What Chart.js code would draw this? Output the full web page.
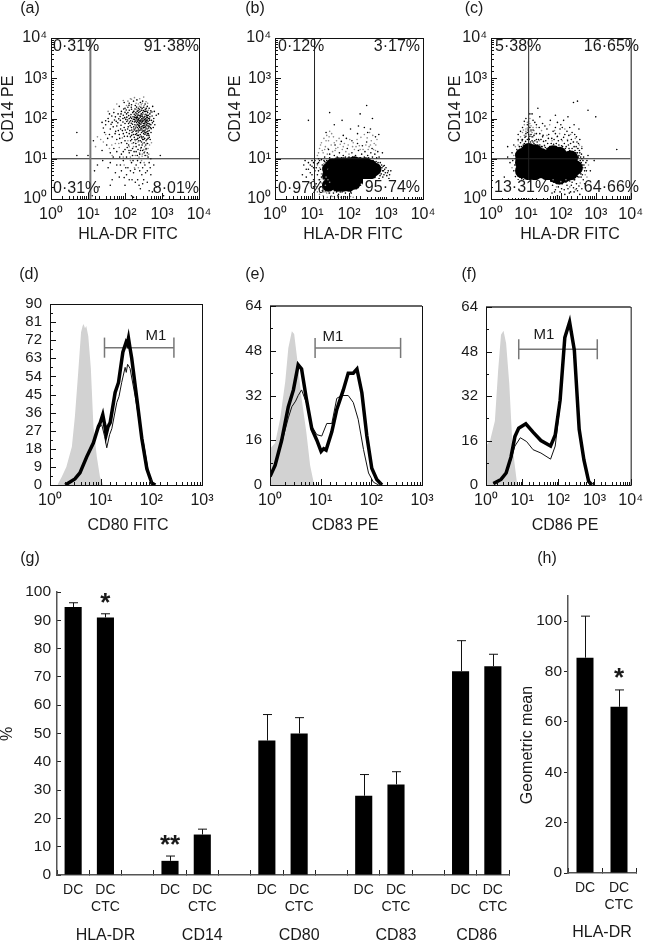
<!DOCTYPE html>
<html>
<head>
<meta charset="utf-8">
<script src="https://cdn.jsdelivr.net/npm/chart.js@4"></script>
<style>
  html, body { margin: 0; padding: 0; background: #fff; }
  #page { position: relative; width: 649px; height: 945px; overflow: hidden; }
  #page canvas { position: absolute; left: 0; top: 0; }
</style>
</head>
<body>
<div id="page"></div>
<script>
const FONT = '"Liberation Sans", Arial, sans-serif';

// === scatter (a) === //
const a_black = [[210,130],[180,95],[250,75],[300,110],[150,60],[120,140],[340,60],[280,45],[230,55],[190,40],[160,85],[130,100],[100,75],[90,120],[75,90],[60,65],[420,85],[380,120],[450,50],[500,70],[310,35],[260,28],[210,30],[170,25],[140,35],[110,45],[85,50],[70,40],[55,110],[45,80],[40,55],[35,100],[30,70],[120,190],[150,220],[190,210],[230,180],[280,160],[320,190],[360,150],[410,140],[470,110],[520,90],[580,60],[600,100],[200,65],[220,85],[240,100],[265,120],[290,90],[315,75],[335,95],[355,85],[375,70],[395,55],[240,50],[225,70],[205,80],[185,70],[165,110],[145,125],[125,75],[105,95],[95,60],[135,50],[155,45],[175,55],[195,105],[215,115],[235,140],[255,150],[275,130],[295,65],[325,50],[345,40],[365,100],[385,90],[405,105],[425,65],[445,75],[465,90],[485,60],[505,45],[540,115],[300,140],[270,85],[250,60],[230,95],[210,50],[190,120],[170,150],[150,170],[130,160],[110,130],[80,150],[65,130],[50,140],[70,200],[100,180],[95,250],[130,240],[170,270],[210,290],[260,250],[300,270],[350,230],[400,200],[450,180],[620,150],[700,120],[800,130],[560,200],[480,30],[420,32],[370,28],[330,25],[290,22],[240,22],[200,20],[160,18],[125,22],[100,28],[80,25],[60,30],[45,35],[38,40],[28,45],[215,60],[245,68],[262,92],[285,78],[308,58],[328,68],[348,78],[368,58],[388,78],[275,62],[255,88],[235,78],[220,105],[200,92],[180,82],[160,72],[142,88],[122,62],[112,84],[98,105],[88,82],[78,68],[68,98],[58,85],[150,38],[178,34],[205,42],[232,38],[258,40],[286,33],[318,42],[352,52],[402,42],[442,38],[60,15],[80,13],[100,17],[130,14],[160,12],[200,15],[250,13],[300,16],[350,12],[400,14],[50,18],[40,14],[32,22],[24,16],[115,19],[145,16],[225,17],[275,19],[40,8],[60,7],[90,9],[120,6],[150,8],[200,7],[250,5],[300,6],[400,5],[450,8],[80,5],[110,4],[170,4.5],[130,3],[70,3.5],[220,3],[320,3],[500,4],[35,6],[25,9],[18,7],[15,5],[5,12],[5,45],[900,12],[600,7],[100,2.2],[150,1.2],[170,1.1],[260,1.8],[40,2.2],[20,2],[13,1.2],[550,1.5],[700,2],[14,28],[10,12],[1100,1.2],
  [252,82],[268,72],[282,98],[298,84],[312,66],[322,88],[338,74],[352,64],[362,92],[378,82],[392,66],[402,92],[412,74],[432,58],[452,64],[472,72],[258,108],[272,112],[292,122],[306,98],[326,106],[344,112],[366,128],[388,108],[412,118],[436,100],[458,98],[242,62],[258,52],[272,56],[288,52],[304,48],[320,60],[336,46],[356,44],[376,46],[392,38],[412,48],[428,42],[228,46],[214,38],[198,48],[184,52],[168,40],[152,52],[138,66],[118,55],[102,52],[90,42],[76,55],[66,50],[56,48],[48,62],[42,72],[36,84],[212,152],[228,122],[242,118],[196,138],[178,128],[162,140],[142,108],[126,118],[112,108],[100,142],[88,100],[74,112],[64,78],[52,92],[44,115],[38,130],[30,88],[26,58],[24,80],[186,172],[206,192],[226,160],[248,170],[268,190],[290,178],[312,158],[332,150],[352,170],[376,180],[392,152],[424,120],[148,190],[128,212],[108,162],[92,172],[78,130],[118,92],[132,82],[148,76],[172,62],[192,58],[214,72],[232,66],[182,108],[204,102],[222,92],[240,88],[150,100],[168,96],[188,86],[208,108],[166,48],[186,30],[222,32],[248,34],[274,36],[300,30],[340,32],[392,30],[454,34],[510,56],[550,78],[590,85],[640,70],[470,130],[500,155],[536,145],[96,36],[116,36],[130,42],[142,28],[72,32],[54,42],[34,32],[112,24],[152,30],[196,24],[236,28],[280,26],[322,30],[364,22],[408,24],[128,16],[176,15],[215,12],[262,16],[328,14],[372,18],[72,11],[90,15],[48,11],[110,11],[165,9],[218,9],[262,8],[345,7],[420,11],[480,6],[500,10],[75,7],[105,6],[140,5],[185,5.5],[285,4],[360,4.5],[95,3.4],[55,4.5],[45,3],[155,3],[190,2.6],[240,2.2],[300,2.4],[400,2.6],[450,1.6]];
const a_gray = [[150,300],[180,330],[250,310],[320,340],[110,210],[90,280],[60,230],[50,170],[35,150],[30,40],[22,30],[16,20],[38,18],[55,24],[85,33],[120,28],[155,24],[190,28],[225,26],[265,18],[300,24],[340,20],[380,24],[420,18],[460,22],[520,25],[90,11],[140,11],[190,12],[240,11],[290,11.5],[340,15],[380,17],[180,150],[200,170],[220,150],[245,200],[275,220],[310,130],[340,125],[370,165],[430,160],[490,140],[45,12],[70,19],[330,8],[280,9],[230,6],[180,6],[140,9],[95,7],[120,270],[140,310],[200,240],[230,230],[290,240],[330,210],[370,260],[410,240],[265,18],[245,14],[295,13],[318,17],[354,17],[395,12],[438,13],[170,20],[130,20],[68,24],[44,22],[26,26],[18,35]];

// === scatter (b) === //
const b_core = [[28,2.2],[28,3.8],[28,5.6],[35,3],[35,5],[35,7],[50,2.2],[50,3.5],[50,5.5],[50,7.5],[70,2.2],[70,3.5],[70,5.5],[70,7.5],[100,2.2],[100,3.5],[100,5.5],[100,7.5],[140,2.5],[140,4],[140,6],[140,8],[200,3.5],[200,5.5],[200,7.5],[280,4],[280,6],[280,7.5],[390,4.5],[390,6.5],[500,5.5]];
const b_black = [[12,9],[13,6],[14,4],[15,8],[16,3],[17,5.5],[18,9.5],[19,7],[20,2],[21,4],[22,8.5],[23,1.6],[24,6],[25,9],[26,2.5],[28,8],[29,1.4],[30,9.5],[32,1.8],[34,8.5],[36,7.5],[38,1.4],[40,9],[42,1.7],[45,8],[48,9.5],[52,1.3],[55,8.5],[60,9.5],[65,1.5],[70,9],[75,8],[80,1.4],[85,9.5],[90,1.7],[95,9],[105,9.8],[110,1.5],[115,8.5],[120,10],[125,1.8],[130,9],[150,9.6],[160,1.8],[170,8.8],[180,10],[190,2.2],[210,9],[230,9.8],[240,2.4],[250,8.6],[270,9.4],[290,2.8],[310,8.5],[330,9.2],[350,2.6],[370,8.2],[400,8.8],[420,3],[440,7.5],[460,2.8],[480,8],[500,3.4],[520,6.6],[540,8.5],[560,4],[590,5.5],[620,7],[650,3.2],[680,5],[700,8],[740,4.2],[780,6],[820,3.5],[860,5],[900,6.8],[960,4.5],[1050,3.8],[1150,5],[1250,4],[1350,5],[8,8],[7,5.5],[6,7],[9,4.5],[10,6.5],[11,3],[5.5,4],[10,9],[11,2],[300,7],[330,6],[360,4.5],[390,7.5],[420,6],[450,5],[480,6],[15,10],[22,11],[30,13],[40,12],[55,14],[70,12],[90,18],[120,14],[150,12],[180,16],[220,13],[270,15],[320,12],[390,14],[500,13],[650,11],[28,17],[42,22],[62,27],[85,32],[120,28],[170,24],[230,21],[300,26],[420,18],[600,15],[800,14],[24,45],[30,140],[40,70],[65,90],[110,55],[180,65],[200,130],[260,60],[380,55],[430,100],[300,210],[320,45],[8,90],[170,42],[70,38],[520,35],[640,40],
  [13,2.4],[14,7.5],[15,5],[16,9],[17,2],[18,3.5],[19,1.6],[20,6],[21,9],[22,5],[23,3],[24,8],[25,4],[26,7],[27,1.7],[28,5.5],[30,3.2],[30,7],[32,4],[33,9],[34,2.4],[36,9.6],[38,8],[40,1.6],[42,7],[44,9],[46,1.5],[48,7.5],[50,1.2],[55,7.5],[58,1.5],[62,8],[66,9],[72,7.5],[78,9],[82,8.2],[88,7.5],[92,9],[100,9],[108,8.5],[115,1.4],[122,8],[135,8],[145,1.8],[155,8],[165,9],[175,1.9],[185,8],[195,9],[205,2.2],[215,8.5],[225,2.5],[240,8],[255,2.2],[265,8],[280,8.5],[295,8],[305,2.2],[320,7.5],[325,3],[345,8],[355,7],[365,3.2],[385,9],[405,3.4],[410,7],[425,8],[435,4],[445,9],[455,6],[470,3.5],[490,7],[510,4.5],[530,5.5],[550,7],[570,2.8],[580,6.5],[600,4.5],[610,8],[640,5.5],[660,6.5],[690,3.8],[720,6],[760,7],[800,5],[840,6.5],[880,4],[920,5.5],[1000,6],[1100,4.5],[1200,3.2],[7,3.5],[8,5.5],[9,7],[6.5,9],[10,4],[9,2.5],[11,8],[12,5],[11,6],[30,10.5],[48,11],[62,10.5],[80,11],[100,11],[125,11],[150,10.5],[200,10.5],[260,11],[340,10.5],[430,11],[560,10.5]];
const b_gray = [[14,12],[16,18],[18,25],[20,14],[21,32],[23,20],[25,38],[26,13],[28,28],[30,48],[33,22],[36,15],[38,35],[42,16],[46,28],[50,19],[58,23],[66,17],[75,24],[82,15],[95,22],[105,30],[125,20],[140,17],[165,30],[190,21],[210,34],[240,17],[260,40],[285,22],[310,33],[350,20],[360,45],[400,28],[440,38],[480,24],[530,22],[570,30],[13,2],[14,1.5],[15,3],[16,1.3],[18,2.5],[20,1.2],[22,3],[24,1.5],[26,1.1],[30,2.6],[33,1.2],[14,7],[16,6],[18,4.2],[21,7.5],[24,3.5],[27,5.5],[15,14],[17,22],[19,16],[22,17],[24,28],[27,18],[29,35],[34,42],[40,25],[44,18],[54,32],[70,20],[100,13],[130,25],[155,20],[200,17],[330,17],[380,22],[460,17],[520,16],[15,1.8],[17,2.6],[19,3.2],[21,1.5],[23,2.2],[25,1.4],[27,3],[30,1.4],[35,1.15],[40,1.15],[50,1.1],[60,1.1],[75,1.15],[90,1.1],[110,1.15],[130,1.1]];

// === scatter (c) === //
const c_core = [[8,5],[8,8],[8,12],[12,4.5],[12,7],[12,11],[12,16],[18,4.5],[18,7],[18,11],[18,15],[27,5],[27,8],[27,12],[40,4.5],[40,7],[40,11],[60,4],[60,6.5],[60,10],[60,14],[90,3.5],[90,6],[90,9],[90,13],[130,4],[130,6.5],[130,10],[190,4.5],[190,7],[190,10.5],[260,6]];
const c_black = [[3.5,8],[4,14],[4.5,5],[5,10],[5,3.6],[5.5,7],[5.5,17],[6,3],[6,13],[6.5,20],[7,2.8],[7,25],[8,18],[8,30],[9,2.6],[9,24],[10,36],[11,45],[11,2.7],[12,32],[13,60],[14,40],[15,28],[16,52],[17,24],[18,80],[20,30],[22,22],[25,42],[28,20],[32,27],[36,19],[42,24],[50,19],[55,32],[62,23],[70,42],[75,20],[85,28],[95,55],[105,21],[120,34],[135,18],[150,48],[165,22],[180,16],[200,30],[220,15],[240,20],[270,14],[290,26],[320,11],[340,16],[360,9],[390,13],[420,7],[450,11],[480,5],[520,8],[600,12],[700,5],[900,9],[4000,17],[300,3.6],[280,2.4],[250,3],[230,1.9],[210,2.6],[190,1.5],[170,3],[150,2.2],[130,1.3],[120,2.8],[105,1.8],[90,2.4],[80,1.2],[70,1.7],[62,2.6],[56,1.4],[320,4.5],[350,5],[380,3.5],[410,6],[440,3],[480,2.4],[300,1.6],[350,1.3],[400,1.8],[50,90],[35,65],[25,110],[15,130],[10,100],[8,60],[70,120],[120,90],[180,60],[250,40],[350,30],[300,270],[230,250],[600,160],[1000,110],[160,110],[100,70],[70,60],[45,40],[30,35],[240,70],[330,55],[2.4,3.5],[3,20],[3,11],[4,2.5],[6,40],[22,180],[1,1.05],[14,1.2],[20,1.1],[26,1.15],[35,1.1],[50,1.1],
  [4.2,9],[4.8,7],[5.2,13],[5.6,4.5],[5.8,10],[6.2,6],[6.4,16],[6.6,3.6],[6.8,9],[7.2,14],[7.4,20],[7.6,3.2],[7.8,28],[8.4,22],[8.6,3],[9.2,18],[9.4,34],[9.8,27],[10,42],[10.5,22],[11,30],[11.5,52],[12,40],[12.5,30],[13,36],[13.5,26],[14,52],[15,35],[16,26],[17,38],[18,28],[19,22],[20,42],[21,26],[23,30],[25,22],[27,30],[29,20],[31,38],[34,21],[37,28],[40,18],[44,32],[48,20],[53,24],[58,19],[64,30],[68,20],[74,24],[80,36],[88,22],[96,19],[104,30],[112,20],[126,24],[142,20],[156,28],[172,18],[190,24],[210,18],[230,26],[255,16],[275,20],[300,14],[310,18],[330,12],[350,14],[370,11],[385,8],[400,10],[430,9],[460,7],[500,6],[540,5],[560,9],[285,4],[300,5.5],[310,8],[330,3.5],[340,7],[360,6],[375,4.2],[395,5.5],[415,4],[300,11],[280,12],[270,9],[240,3],[220,3.2],[200,2.2],[180,2.8],[160,1.8],[140,2.6],[110,2.4],[95,1.5],[85,2],[75,2.7],[66,1.5],[58,2.2],[125,1.7],[175,1.4],[240,1.5],[280,1.8],[330,2.1],[24,60],[30,75],[40,55],[60,48],[80,80],[110,60],[130,40],[170,38],[210,45],[280,35],[320,24],[400,18],[6,30],[4.5,22],[7,48],[9,85],[11,70],[13,130],[16,90],[20,70]];
const c_gray = [[4,6],[4.5,12],[5,20],[6,28],[7,35],[8,45],[9,70],[10,55],[11,80],[12,65],[13,100],[14,48],[16,35],[18,42],[20,60],[24,28],[28,50],[34,22],[40,38],[48,70],[56,28],[66,50],[78,35],[92,42],[110,28],[130,55],[155,30],[190,40],[225,26],[260,32],[300,18],[340,22],[400,20],[450,6],[500,4],[560,3.5],[620,7],[360,2.5],[260,1.7],[180,2],[140,3],[100,2.7],[75,2],[60,3],[9,38],[10,48],[11,58],[12,48],[13,75],[14,66],[15,45],[16,60],[12,85],[17,50],[8.5,52],[7.5,30],[6,22]];

// === histogramas === //
const d_gray = [[1.4,0],[1.7,4],[2.1,9],[2.7,19],[3.1,34],[3.6,56],[4.1,76],[4.4,79],[4.6,80],[4.9,78],[5.2,79],[5.7,74],[6.4,58],[7.2,29],[8.4,14],[9.7,4],[11.3,0]];
const d_thin = [[2,0],[3.1,3],[3.9,6],[5.3,14],[7.2,21],[9,28],[10.5,30],[12,24],[13.2,18.5],[15,25],[16.6,28],[20.8,41],[23,44],[26,51],[30.4,58.5],[32,56],[34,60],[38,58],[48,44],[60,29],[70,21],[88,6],[102,0.7],[120,0]];
const d_thick = [[2,0],[3.1,3],[3.9,6],[5.3,14],[7.2,21],[9,29],[9.8,31],[11,35],[12,30],[12.8,25],[14,29],[15.4,31],[19.3,46],[22.5,51],[27.4,66],[31.8,71],[33.5,70],[35.4,73],[38,68],[41,63],[51.7,43],[65,23],[81.6,8],[102,1],[120,0]];
const e_gray = [[1,13],[1.26,15],[1.58,23.5],[2,37],[2.3,49],[2.7,55],[3,54],[3.5,44],[4.2,31],[5.2,19],[6.2,7],[7.2,1.3],[7.8,0]];
const e_thin = [[1,3],[1.26,7],[1.7,15],[2.3,24],[2.7,28],[3.2,30],[3.6,32],[4.2,34],[5.2,29.5],[6.7,21],[8.4,18],[10.5,17.5],[13.2,22],[16.6,22],[20.8,31],[26,32],[35,32],[44,29.5],[55,23.5],[70,12.7],[88,4.3],[110,1],[140,0]];
const e_thick = [[1,3],[1.26,7],[1.7,16],[2.3,28],[2.9,34],[3.6,43],[4.2,41.5],[5.2,31],[6.7,20],[8.4,16],[10.2,12],[11.5,13],[12.8,12.5],[16.6,19],[20.8,27],[28,34],[35,40],[44,40],[52,41.5],[65,33],[81.6,17.5],[102,6],[128,2],[162,0]];
const f_gray = [[1,14],[1.3,16],[1.76,23],[2.16,41],[2.6,54],[3.05,55.5],[3.6,51],[4.4,36.5],[5.4,14],[6.3,6.7],[7.3,0]];
const f_thin = [[1.6,0.5],[2.6,2],[3.6,4],[4.9,9],[6.3,14],[8.9,17],[13.3,15.6],[20,12.7],[33,11.5],[61,9.3],[82,14],[112,29],[151,52],[205,58],[277,47.5],[377,20],[510,9],[690,1.3],[845,0]];
const f_thick = [[1.6,0.5],[2.6,2],[3.6,4.3],[4.9,10],[6.3,17.4],[8,20.4],[12.6,22],[20,19],[33,16],[61,14],[82,18],[112,30.5],[151,53],[205,58.6],[277,48.5],[377,20],[510,9],[690,1.3],[845,0]];

// === barras === //
const g_labels = [['DC'], ['DC', 'CTC'], '', ['DC'], ['DC', 'CTC'], '', ['DC'], ['DC', 'CTC'], '', ['DC'], ['DC', 'CTC'], '', ['DC'], ['DC', 'CTC']];
const g_values = [94.7, 91, null, 5, 14.3, null, 47.5, 50, null, 28, 32, null, 72, 73.8];
const g_tops = [96.2, 92.3, null, 6.7, 16.2, null, 56.7, 55.6, null, 35.5, 36.5, null, 82.8, 78];
const g_groups = ['HLA-DR', 'CD14', 'CD80', 'CD83', 'CD86'];
const g_group_at = [1, 4, 7, 10, 12.5];
const h_labels = [['DC'], ['DC', 'CTC']];
const h_values = [85.5, 66];
const h_tops = [102, 72.7];

const log_labels = { 1: '10⁰', 10: '10¹', 100: '10²', 1000: '10³', 10000: '10⁴' };

function is_pow10(v) {
  const l = Math.log10(v);
  return Math.abs(l - Math.round(l)) < 1e-9;
}

function draw_text(ctx, t) {
  ctx.save();
  ctx.font = (t.bold ? 'bold ' : '') + (t.size || 16) + 'px ' + FONT;
  ctx.textAlign = t.align || 'center';
  ctx.textBaseline = 'middle';
  if (t.bg) {
    ctx.fillStyle = '#fff';
    ctx.fillRect(t.bg[0], t.bg[1], t.bg[2], t.bg[3]);
  }
  ctx.fillStyle = '#1a1a1a';
  ctx.translate(t.x, t.y);
  if (t.rot) ctx.rotate(-Math.PI / 2);
  ctx.fillText(t.text, 0, 0);
  ctx.restore();
}

// moldura, ticks para dentro, textos soltos e barras de erro
const panel_plugin = {
  id: 'panel',
  afterDatasetsDraw(chart, args, opts) {
    const ctx = chart.ctx;
    const area = chart.chartArea;
    ctx.save();
    ctx.strokeStyle = '#111';
    ctx.lineWidth = 1;
    if (opts.frame) {
      ctx.strokeRect(area.left + 0.5, area.top + 0.5, area.width, area.height);
      if (opts.grayTop) {
        ctx.strokeStyle = '#666';
        ctx.lineWidth = 2;
        ctx.beginPath();
        ctx.moveTo(area.left, area.top);
        ctx.lineTo(area.right, area.top);
        ctx.stroke();
        ctx.strokeStyle = '#111';
        ctx.lineWidth = 1;
      }
      chart.scales.x.ticks.forEach(tk => {
        const px = Math.round(chart.scales.x.getPixelForValue(tk.value)) + 0.5;
        const len = is_pow10(tk.value) ? 6 : 3;
        ctx.beginPath();
        ctx.moveTo(px, area.bottom);
        ctx.lineTo(px, area.bottom - len);
        ctx.stroke();
      });
      chart.scales.y.ticks.forEach(tk => {
        const py = Math.round(chart.scales.y.getPixelForValue(tk.value)) + 0.5;
        const major = opts.yMajor ? tk.value % opts.yMajor === 0 : is_pow10(tk.value);
        ctx.beginPath();
        ctx.moveTo(area.left, py);
        ctx.lineTo(area.left + (major ? 6 : 3), py);
        ctx.stroke();
      });
    }
    if (opts.tops) {
      const sx = chart.scales.x, sy = chart.scales.y;
      opts.tops.forEach((top, i) => {
        if (top === null) return;
        const px = Math.round(sx.getPixelForValue(i)) + 0.5;
        ctx.beginPath();
        ctx.moveTo(px, sy.getPixelForValue(opts.values[i]));
        ctx.lineTo(px, sy.getPixelForValue(top));
        ctx.moveTo(px - 4.5, sy.getPixelForValue(top));
        ctx.lineTo(px + 4.5, sy.getPixelForValue(top));
        ctx.stroke();
      });
      (opts.stars || []).forEach(s => {
        draw_text(ctx, { text: s.text, x: sx.getPixelForValue(s.at), y: sy.getPixelForValue(s.value) + 6, size: 26, bold: true });
      });
      (opts.groups || []).forEach(g => {
        draw_text(ctx, { text: g.text, x: sx.getPixelForValue(g.at), y: opts.groupY });
      });
    }
    (opts.texts || []).forEach(t => draw_text(ctx, t));
    ctx.restore();
  }
};
Chart.register(panel_plugin);

function make_canvas() {
  const c = document.createElement('canvas');
  c.width = 649;
  c.height = 945;
  c.style.width = '649px';
  c.style.height = '945px';
  document.getElementById('page').appendChild(c);
  return c;
}

// o eixo y ocupa tudo à esquerda da caixa e o eixo x tudo abaixo dela
function box_padding(b) {
  return { left: 0, top: b.y, right: 649 - b.x - b.w, bottom: 0 };
}

function fit_to(b) {
  return axis => {
    if (axis.isHorizontal()) axis.height = 945 - b.y - b.h; else axis.width = b.x;
  };
}

function log_axis(b, max, padding) {
  return {
    type: 'logarithmic',
    min: 1,
    max: max,
    afterFit: fit_to(b),
    grid: { display: false, drawTicks: false },
    border: { display: false },
    ticks: {
      autoSkip: false,
      maxRotation: 0,
      padding: padding,
      color: '#1a1a1a',
      font: { family: FONT, size: 16 },
      callback: v => (is_pow10(v) ? log_labels[Math.round(v)] : '')
    }
  };
}

function line_set(points, color, width) {
  return { data: points, showLine: true, borderColor: color, borderWidth: width, pointRadius: 0, tension: 0, fill: false };
}

function dots_set(points, color, radius) {
  return { data: points.map(p => ({ x: p[0], y: p[1] })), showLine: false, backgroundColor: color, borderWidth: 0, pointRadius: radius };
}

function xy(points) {
  return points.map(p => ({ x: p[0], y: p[1] }));
}

function scatter_panel(b, gate_x, gate_w, sets, texts) {
  new Chart(make_canvas(), {
    type: 'scatter',
    data: {
      datasets: [
        line_set([{ x: gate_x, y: 1 }, { x: gate_x, y: 10000 }], gate_w > 1 ? '#777' : '#222', gate_w),
        line_set([{ x: 1, y: 10 }, { x: 10000, y: 10 }], '#222', 1)
      ].concat(sets)
    },
    options: {
      responsive: false,
      animation: false,
      events: [],
      layout: { autoPadding: false, padding: box_padding(b) },
      plugins: { legend: { display: false }, tooltip: { enabled: false }, panel: { frame: true, texts: texts } },
      scales: { x: log_axis(b, 10000, 6), y: log_axis(b, 10000, 4) }
    }
  });
}

function hist_panel(b, x_max, y_max, y_major, thick, thin, gray, m1, texts, gray_top) {
  const tick_gap = y_major / 2;
  new Chart(make_canvas(), {
    type: 'scatter',
    data: {
      datasets: [
        line_set(xy(thick), '#000', 3.5),
        line_set(xy(thin), '#111', 1),
        line_set([{ x: m1.from, y: m1.y }, { x: m1.to, y: m1.y }], '#777', 1.5),
        line_set([{ x: m1.from, y: m1.y - m1.cap }, { x: m1.from, y: m1.y + m1.cap }], '#777', 1.5),
        line_set([{ x: m1.to, y: m1.y - m1.cap }, { x: m1.to, y: m1.y + m1.cap }], '#777', 1.5),
        Object.assign(line_set(xy(gray), '#d2d2d2', 0), { fill: 'origin', backgroundColor: '#d2d2d2' })
      ]
    },
    options: {
      responsive: false,
      animation: false,
      events: [],
      layout: { autoPadding: false, padding: box_padding(b) },
      plugins: { legend: { display: false }, tooltip: { enabled: false }, panel: { frame: true, yMajor: y_major, grayTop: gray_top, texts: texts } },
      scales: {
        x: log_axis(b, x_max, 6),
        y: {
          type: 'linear',
          min: 0,
          max: y_max,
          afterFit: fit_to(b),
          grid: { display: false, drawTicks: false },
          border: { display: false },
          ticks: {
            stepSize: tick_gap,
            autoSkip: false,
            padding: 8,
            color: '#1a1a1a',
            font: { family: FONT, size: 15 },
            callback: v => (v % y_major === 0 ? v : '')
          }
        }
      }
    }
  });
}

function bar_panel(b, labels, values, tops, y_max, y_label_max, step, y_tick_len, tick_pad, bar_pct, extra) {
  new Chart(make_canvas(), {
    type: 'bar',
    data: {
      labels: labels,
      datasets: [{ data: values, backgroundColor: '#000', categoryPercentage: 1, barPercentage: bar_pct }]
    },
    options: {
      responsive: false,
      animation: false,
      events: [],
      layout: { autoPadding: false, padding: box_padding(b) },
      plugins: {
        legend: { display: false },
        tooltip: { enabled: false },
        panel: Object.assign({ tops: tops, values: values }, extra)
      },
      scales: {
        x: {
          afterFit: fit_to(b),
          border: { color: '#555', width: 1.5 },
          grid: { offset: true, drawOnChartArea: false, tickLength: -5, color: '#222' },
          ticks: {
            autoSkip: false,
            maxRotation: 0,
            padding: 12,
            color: '#1a1a1a',
            font: { family: FONT, size: 14, lineHeight: 1.2 }
          }
        },
        y: {
          min: 0,
          max: y_max,
          afterFit: fit_to(b),
          afterBuildTicks: axis => { axis.ticks = axis.ticks.filter(t => t.value <= y_label_max); },
          border: { color: '#555', width: 1.5 },
          grid: { drawOnChartArea: false, tickLength: y_tick_len, color: '#222' },
          ticks: {
            stepSize: step,
            padding: tick_pad,
            color: '#1a1a1a',
            font: { family: FONT, size: 15.5 }
          }
        }
      }
    }
  });
}

scatter_panel({ x: 51, y: 38, w: 148, h: 161 }, 11.6, 2,
  [dots_set(a_black, '#000', 0.8), dots_set(a_gray, '#888', 0.8)],
  [
    { text: '(a)', x: 30, y: 9 },
    { text: 'HLA-DR FITC', x: 128, y: 235 },
    { text: 'CD14 PE', x: 9, y: 109, rot: true },
    { text: '0·31%', x: 53, y: 47, align: 'left' },
    { text: '91·38%', x: 199, y: 47, align: 'right' },
    { text: '0·31%', x: 53, y: 189, align: 'left' },
    { text: '8·01%', x: 199, y: 189, align: 'right' }
  ]);

scatter_panel({ x: 275, y: 38, w: 148, h: 161 }, 11.7, 1,
  [dots_set(b_black, '#000', 0.8), dots_set(b_gray, '#888', 0.8), dots_set(b_core, '#000', 6.5)],
  [
    { text: '(b)', x: 255, y: 9 },
    { text: 'HLA-DR FITC', x: 353, y: 235 },
    { text: 'CD14 PE', x: 236, y: 109, rot: true },
    { text: '0·12%', x: 278, y: 47, align: 'left' },
    { text: '3·17%', x: 420, y: 47, align: 'right' },
    { text: '0·97%', x: 278, y: 189, align: 'left' },
    { text: '95·74%', x: 420, y: 188, align: 'right', bg: [363, 179, 59, 18] }
  ]);

scatter_panel({ x: 491, y: 38, w: 148, h: 161 }, 12, 1,
  [dots_set(c_black, '#000', 0.8), dots_set(c_gray, '#888', 0.8), dots_set(c_core, '#000', 7.5)],
  [
    { text: '(c)', x: 474, y: 9 },
    { text: 'HLA-DR FITC', x: 570, y: 235 },
    { text: 'CD14 PE', x: 456, y: 109, rot: true },
    { text: '5·38%', x: 495, y: 47, align: 'left' },
    { text: '16·65%', x: 639, y: 47, align: 'right' },
    { text: '13·31%', x: 494, y: 188, align: 'left', bg: [493, 180, 57, 18] },
    { text: '64·66%', x: 639, y: 188, align: 'right' }
  ]);

hist_panel({ x: 50, y: 304, w: 152, h: 181 }, 1000, 90, 9, d_thick, d_thin, d_gray,
  { from: 11.9, to: 279, y: 68.3, cap: 5 },
  [
    { text: '(d)', x: 29, y: 275 },
    { text: 'CD80 FITC', x: 128, y: 526 },
    { text: 'M1', x: 156, y: 336, size: 15 }
  ], false);

hist_panel({ x: 270, y: 306, w: 152, h: 179 }, 1000, 64, 16, e_thick, e_thin, e_gray,
  { from: 7.76, to: 378, y: 49, cap: 3.6 },
  [
    { text: '(e)', x: 255, y: 275 },
    { text: 'CD83 PE', x: 345, y: 526 },
    { text: 'M1', x: 333, y: 337, size: 15 }
  ], true);

hist_panel({ x: 486, y: 307, w: 151, h: 178 }, 10000, 64, 16, f_thick, f_thin, f_gray,
  { from: 8.04, to: 1194, y: 48.8, cap: 3.6 },
  [
    { text: '(f)', x: 469, y: 275 },
    { text: 'CD86 PE', x: 565, y: 526 },
    { text: 'M1', x: 544, y: 335, size: 15 }
  ], true);

bar_panel({ x: 57, y: 592, w: 452, h: 283 }, g_labels, g_values, g_tops, 100, 100, 10, -4, 10, 0.53, {
  stars: [{ text: '*', at: 1, value: 97.9 }, { text: '**', at: 3, value: 12.4 }],
  groups: g_groups.map((t, i) => ({ text: t, at: g_group_at[i] })),
  groupY: 936,
  texts: [
    { text: '(g)', x: 30, y: 559 },
    { text: '%', x: 8, y: 734, rot: true }
  ]
});

bar_panel({ x: 568, y: 596, w: 68, h: 277 }, h_labels, h_values, h_tops, 110, 100, 20, 4, 2, 0.5, {
  stars: [{ text: '*', at: 1, value: 79.6 }],
  groups: [{ text: 'HLA-DR', at: 0.5 }],
  groupY: 933,
  texts: [
    { text: '(h)', x: 547, y: 559 },
    { text: 'Geometric mean', x: 528, y: 745, rot: true }
  ]
});
</script>
</body>
</html>
